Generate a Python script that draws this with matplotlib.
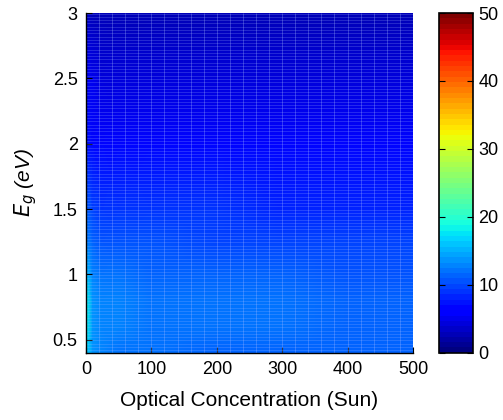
import numpy as np
import matplotlib.pyplot as plt

plt.rcParams['font.family'] = ['Liberation Sans', 'DejaVu Sans']

# concentration (suns) and band gap (eV) sample points
conc = [1, 10, 25, 50, 100, 200, 300, 400, 500]
eg = [0.4, 0.6, 0.8, 1.0, 1.25, 1.5, 2.0, 2.5, 3.0]

# values at each (eg, conc) sample
vals = [
    [16.5, 13.5, 12.8, 12.4, 12.0, 11.7, 11.5, 11.3, 11.0],
    [18.0, 14.0, 13.2, 12.8, 12.4, 12.0, 11.8, 11.6, 11.4],
    [18.0, 14.0, 13.2, 12.8, 12.4, 12.0, 11.8, 11.6, 11.4],
    [16.0, 12.8, 12.2, 11.8, 11.5, 11.2, 11.0, 10.8, 10.7],
    [13.0, 11.0, 10.6, 10.4, 10.2, 10.0, 9.8, 9.7, 9.6],
    [11.0, 9.5, 9.2, 9.0, 8.8, 8.6, 8.5, 8.4, 8.3],
    [7.5, 6.9, 6.7, 6.6, 6.5, 6.4, 6.4, 6.3, 6.3],
    [5.0, 4.7, 4.6, 4.5, 4.5, 4.5, 4.4, 4.4, 4.4],
    [3.3, 3.1, 3.0, 3.0, 3.0, 3.0, 3.0, 3.0, 3.0],
]

fig = plt.figure(figsize=(5.03, 4.2), dpi=100)
ax = fig.add_axes([0.171, 0.160, 0.650, 0.809])
cax = fig.add_axes([0.873, 0.160, 0.068, 0.809])

cmap = plt.get_cmap('jet', 64)
X, Y = np.meshgrid(conc, eg)
mesh = ax.pcolormesh(X, Y, np.array(vals), cmap=cmap, vmin=0, vmax=50,
                     shading='gouraud')

# faint mesh edges over the surface
ax.vlines(np.arange(20, 500, 20), 0.4, 3, colors='#a8bcff', linewidth=0.6, alpha=0.35)
ax.hlines(np.arange(0.42, 3, 0.025), 0, 500, colors='#a8bcff', linewidth=0.5, alpha=0.3)

ax.set_xlim(0, 500)
ax.set_ylim(0.4, 3)
ax.set_xticks([0, 100, 200, 300, 400, 500])
ax.set_yticks([0.5, 1, 1.5, 2, 2.5, 3])
ax.set_yticklabels(['0.5', '1', '1.5', '2', '2.5', '3'])
ax.tick_params(direction='in', labelsize=13, length=4, width=0.8, pad=6)
ax.spines['top'].set_visible(False)
ax.spines['right'].set_visible(False)
for s in ('left', 'bottom'):
    ax.spines[s].set_linewidth(1.0)

ax.set_xlabel('Optical Concentration (Sun)', fontsize=15, labelpad=9)
ax.set_ylabel(r'$E_g$ (eV)', fontsize=15, fontstyle='italic', labelpad=10)

cb = fig.colorbar(mesh, cax=cax, ticks=[0, 10, 20, 30, 40, 50])
cb.outline.set_linewidth(1.2)
cax.tick_params(direction='in', labelsize=13, length=4, width=0.8, left=True, right=True)

fig.savefig('out.png', dpi=100)
